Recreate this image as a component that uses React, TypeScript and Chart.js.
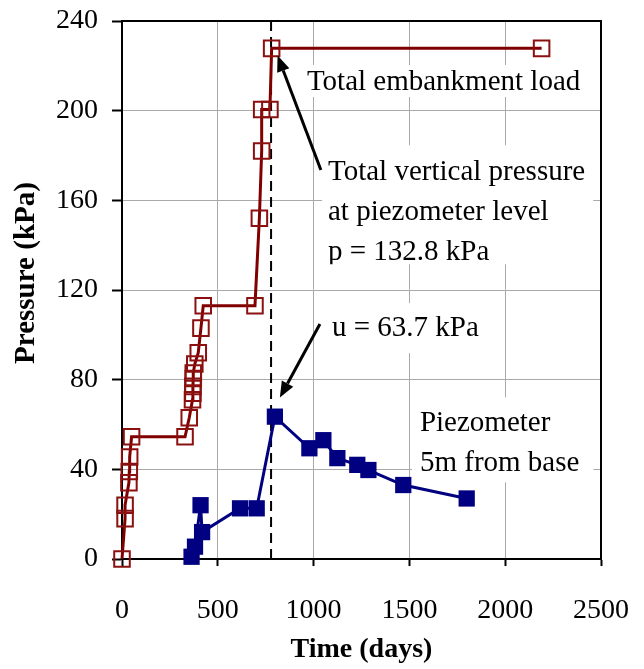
import React, { useEffect, useRef } from "react";
import { Chart, registerables } from "chart.js";

Chart.register(...registerables);

// Total vertical pressure at piezometer level (kPa) vs time (days)
const totalDays = [0, 16, 16, 36, 38, 40, 50, 329, 351, 368, 370, 370, 372, 372, 380, 398, 412, 424, 694, 717, 729, 729, 772, 781, 2190];
const totalPressure = [0, 18, 24, 34, 39, 45.5, 54.5, 54.5, 63, 71, 74, 77, 80.5, 83, 87, 92, 103, 113, 113, 152, 182, 200.5, 200.5, 227.8, 227.8];

// Piezometer 5 m from base: pore pressure (kPa) vs time (days)
const piezoDays = [363, 381, 410, 418, 616, 703, 798, 978, 1051, 1124, 1228, 1286, 1468, 1799];
const piezoPressure = [1, 5.5, 24, 12, 22.6, 22.6, 63.5, 49.4, 53, 45, 42, 39.7, 33, 27];

// End of construction marker (days)
const markerDay = 778;

const xTickValues = [0, 500, 1000, 1500, 2000, 2500];
const yTickValues = [0, 40, 80, 120, 160, 200, 240];

const xTitle = "Time (days)";
const yTitle = "Pressure (kPa)";

const noteLines = {
  load: ["Total embankment load"],
  pressure: ["Total vertical pressure", "at piezometer level", "p = 132.8 kPa"],
  pore: ["u = 63.7 kPa"],
  piezo: ["Piezometer", "5m from base"],
};

const SERIF = '"Liberation Serif", "Times New Roman", serif';
const NOTE_FONT = `29px ${SERIF}`;
const GRID = "#a9a9a9";

type Note = {
  lines: string[];
  t: number;
  p: number;
  padL: number;
  padR: number;
  top: number;
  bottom: number;
};

const notes: Note[] = [
  { lines: noteLines.load, t: 965, p: 212.8, padL: 7, padR: 6, top: 17, bottom: 15 },
  { lines: noteLines.pressure, t: 1075, p: 172.5, padL: 6, padR: 8, top: 27, bottom: 12 },
  { lines: noteLines.pore, t: 1096, p: 103, padL: 7, padR: 10, top: 25, bottom: 25 },
  { lines: noteLines.piezo, t: 1555, p: 60.5, padL: 8, padR: 14, top: 26, bottom: 19 },
];

const arrows = [
  { from: [1038, 173.5], to: [812, 224.6] },
  { from: [1033, 104.8], to: [824, 72] },
];

const annotationPlugin = {
  id: "annotations",
  beforeDatasetsDraw(chart: any) {
    const { ctx, chartArea, scales } = chart;
    const x = scales.x;
    const y = scales.y;
    ctx.save();
    // frame top & right
    ctx.strokeStyle = "#000";
    ctx.lineWidth = 2;
    ctx.beginPath();
    ctx.moveTo(chartArea.left, chartArea.top);
    ctx.lineTo(chartArea.right, chartArea.top);
    ctx.lineTo(chartArea.right, chartArea.bottom);
    ctx.stroke();

    ctx.font = NOTE_FONT;
    ctx.textBaseline = "middle";
    ctx.textAlign = "left";
    const lineGap = 40;
    for (const n of notes) {
      const px = x.getPixelForValue(n.t);
      const py = y.getPixelForValue(n.p);
      let w = 0;
      for (const l of n.lines) w = Math.max(w, ctx.measureText(l).width);
      const bx = px - n.padL;
      const by = py - n.top;
      const bw = w + n.padL + n.padR;
      const bh = n.top + (n.lines.length - 1) * lineGap + n.bottom;
      ctx.fillStyle = "#fff";
      ctx.fillRect(bx, by, bw, bh);
      ctx.save();
      ctx.beginPath();
      ctx.rect(bx, by, bw, bh);
      ctx.clip();
      ctx.fillStyle = "#000";
      n.lines.forEach((l, i) => ctx.fillText(l, px, py + i * lineGap));
      ctx.restore();
    }

    // y-axis title
    ctx.save();
    ctx.font = `bold 29px ${SERIF}`;
    ctx.fillStyle = "#000";
    ctx.textAlign = "center";
    ctx.textBaseline = "middle";
    ctx.translate(chartArea.left - 95, chartArea.top + 252);
    ctx.rotate(-Math.PI / 2);
    ctx.fillText(yTitle, 0, 0);
    ctx.restore();

    ctx.restore();
  },
  afterDatasetsDraw(chart: any) {
    const { ctx, scales } = chart;
    const x = scales.x;
    const y = scales.y;
    ctx.save();
    ctx.strokeStyle = "#000";
    ctx.fillStyle = "#000";
    ctx.lineWidth = 3;
    for (const a of arrows) {
      const x1 = x.getPixelForValue(a.from[0]);
      const y1 = y.getPixelForValue(a.from[1]);
      const x2 = x.getPixelForValue(a.to[0]);
      const y2 = y.getPixelForValue(a.to[1]);
      const ang = Math.atan2(y2 - y1, x2 - x1);
      const headL = 16;
      const headW = 6.5;
      const bxp = x2 - headL * Math.cos(ang);
      const byp = y2 - headL * Math.sin(ang);
      ctx.beginPath();
      ctx.moveTo(x1, y1);
      ctx.lineTo(bxp, byp);
      ctx.stroke();
      ctx.beginPath();
      ctx.moveTo(x2, y2);
      ctx.lineTo(bxp + headW * Math.sin(ang), byp - headW * Math.cos(ang));
      ctx.lineTo(bxp - headW * Math.sin(ang), byp + headW * Math.cos(ang));
      ctx.closePath();
      ctx.fill();
    }
    ctx.restore();
  },
};

export default function App() {
  const ref = useRef<HTMLCanvasElement | null>(null);

  useEffect(() => {
    if (!ref.current) return;
    const chart = new Chart(ref.current, {
      type: "line",
      data: {
        datasets: [
          {
            label: "Piezometer 5m from base",
            data: piezoDays.map((t, i) => ({ x: t, y: piezoPressure[i] })),
            borderColor: "#000080",
            backgroundColor: "#000080",
            borderWidth: 3,
            pointStyle: "rect",
            pointRadius: 11.5,
            pointBorderWidth: 0,
            pointBackgroundColor: "#000080",
            pointBorderColor: "#000080",
            tension: 0,
            clip: false as any,
          },
          {
            label: "Total vertical pressure",
            data: totalDays.map((t, i) => ({ x: t, y: totalPressure[i] })),
            borderColor: "#800000",
            backgroundColor: "rgba(0,0,0,0)",
            borderWidth: 3,
            pointStyle: "rect",
            pointRadius: 11,
            pointBorderWidth: 2,
            pointBackgroundColor: "rgba(0,0,0,0)",
            pointBorderColor: "#8b1010",
            tension: 0,
            clip: false as any,
          },
          {
            label: "marker",
            data: [
              { x: markerDay, y: 0 },
              { x: markerDay, y: 240 },
            ],
            borderColor: "#000",
            borderWidth: 2,
            borderDash: [10, 6],
            pointRadius: 0,
            tension: 0,
          },
        ],
      },
      options: {
        animation: false,
        responsive: false,
        layout: { padding: { left: 0, top: 21, right: 43, bottom: 0 } },
        plugins: {
          legend: { display: false },
          tooltip: { enabled: false },
        },
        scales: {
          x: {
            type: "linear",
            min: 0,
            max: 2500,
            afterBuildTicks: (s: any) => {
              s.ticks = xTickValues.map((v) => ({ value: v }));
            },
            afterFit: (s: any) => {
              s.height = 110;
              s.paddingLeft = 0;
              s.paddingRight = 0;
            },
            ticks: {
              color: "#000",
              font: { family: SERIF, size: 28 },
              padding: 28,
              maxRotation: 0,
              callback: (v: any) => String(v),
            },
            grid: { color: GRID, lineWidth: 1, tickColor: "#000", tickLength: 7, tickWidth: 2 },
            border: { color: "#000", width: 2 },
            title: {
              display: true,
              text: xTitle,
              color: "#000",
              font: { family: SERIF, size: 28, weight: "bold" },
              padding: { top: 0, bottom: 2 },
            },
          },
          y: {
            type: "linear",
            min: 0,
            max: 240,
            afterBuildTicks: (s: any) => {
              s.ticks = yTickValues.map((v) => ({ value: v }));
            },
            afterFit: (s: any) => {
              s.width = 122;
              s.paddingTop = 0;
              s.paddingBottom = 0;
            },
            ticks: {
              color: "#000",
              font: { family: SERIF, size: 28 },
              padding: 14,
              callback: (v: any) => String(v),
            },
            grid: { color: GRID, lineWidth: 1, tickColor: "#000", tickLength: 10, tickWidth: 2 },
            border: { color: "#000", width: 2 },
            title: { display: false },
          },
        },
      },
      plugins: [annotationPlugin],
    } as any);
    return () => chart.destroy();
  }, []);

  return (
    <div style={{ position: "fixed", left: 0, top: 0, width: 644, height: 669, background: "#fff" }}>
      <canvas ref={ref} width={644} height={669} style={{ display: "block", width: 644, height: 669 }} />
    </div>
  );
}
